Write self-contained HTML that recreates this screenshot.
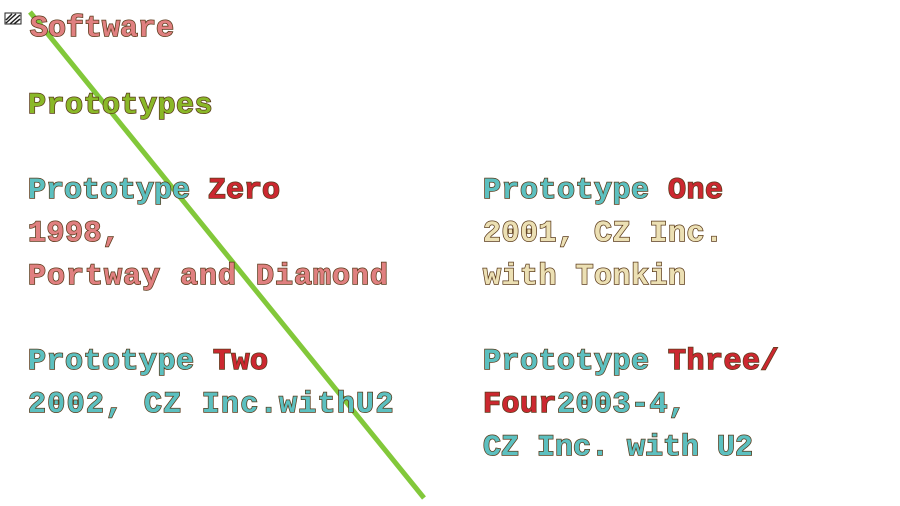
<!DOCTYPE html>
<html><head><style>
body{margin:0;width:900px;height:506px;background:#fff;position:relative;overflow:hidden}
.t{position:absolute;font-family:"Liberation Mono",monospace;font-weight:bold;font-size:30px;line-height:30px;white-space:pre;-webkit-text-stroke:1.5px #5a3a1a;paint-order:stroke fill;letter-spacing:0.5px}
.p{color:#e08080}.g{color:#8ab828}.c{color:#5cc0c0}.r{color:#cc2830}.y{color:#ece0b4}
</style></head><body>
<svg width="900" height="506" style="position:absolute;left:0;top:0">
<line x1="30" y1="12" x2="424" y2="498" stroke="#82c83a" stroke-width="5"/>
<rect x="5" y="13" width="16" height="11" fill="#fff" stroke="#222" stroke-width="1"/>
<path d="M6 20L12 14M6 23L16 14M10 24L20 15M14 24L20 19" stroke="#222" stroke-width="1.5"/>
</svg>
<div class="t p" style="left:30px;top:14px;letter-spacing:0">Software</div>
<div class="t g" style="left:28px;top:91px">Prototypes</div>
<div class="t c" style="left:28px;top:176px;letter-spacing:0">Prototype <span class="r">Zero</span></div>
<div class="t p" style="left:28px;top:219px">1998,</div>
<div class="t p" style="left:28px;top:262px;letter-spacing:1px">Portway and Diamond</div>
<div class="t c" style="left:28px;top:347px">Prototype <span class="r">Two</span></div>
<div class="t c" style="left:28px;top:390px;letter-spacing:1.3px">2002, CZ Inc.withU2</div>
<div class="t c" style="left:483px;top:176px">Prototype <span class="r">One</span></div>
<div class="t y" style="left:483px;top:219px">2001, CZ Inc.</div>
<div class="t y" style="left:483px;top:262px">with Tonkin</div>
<div class="t c" style="left:483px;top:347px">Prototype <span class="r">Three/</span></div>
<div class="t c" style="left:483px;top:390px"><span class="r">Four</span>2003-4,</div>
<div class="t c" style="left:483px;top:433px;letter-spacing:0">CZ Inc. with U2</div>
</body></html>
